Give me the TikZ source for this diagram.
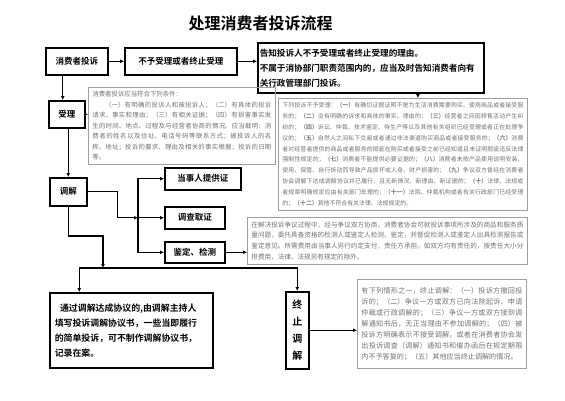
\documentclass[tikz,border=0pt]{standalone}
\usepackage{fontspec}
\setmainfont{Noto Sans CJK SC}[BoldFont={Noto Sans CJK SC Bold}]
\XeTeXlinebreaklocale "zh"
\XeTeXlinebreakskip=0pt plus 1pt
\usetikzlibrary{arrows.meta}
\usetikzlibrary{positioning}
\definecolor{notegray}{gray}{0.45}
\newcommand{\itemno}[1]{{\bfseries （#1）}}

\begin{document}
\begin{tikzpicture}[x=1pt, y=-1pt,
  stepbox/.style={draw, line width=1.5pt, font=\bfseries\fontsize{8.5}{15}\selectfont, inner sep=2pt, anchor=north west},
  notebox/.style={draw=gray!75, line width=0.8pt, text=notegray, align=justify, inner sep=4pt, anchor=north west},
  flow/.style={-{Latex[length=4pt,width=4pt]}, line width=1.2pt}]
  \useasboundingbox [fill=white] (0,0) rectangle (565,400);

  \node [font=\bfseries\fontsize{16}{16}\selectfont] (iTitle) at (260.5,23) {处理消费者投诉流程};

  \node [stepbox, minimum width=62pt, minimum height=27pt] (iComplain) at (45,47) {消费者投诉};
  \node [stepbox, minimum width=112pt, minimum height=27pt] (iReject) at (124,47) {不予受理或者终止受理};
  \node [stepbox, text width=222pt, minimum height=50pt, align=left, font=\bfseries\fontsize{8.6}{15}\selectfont] (iNotice) at (257,42)
    {告知投诉人不予受理或者终止受理的理由。\\不属于消协部门职责范围内的，应当及时告知消费者向有\\关行政管理部门投诉。};
  \node [notebox, text width=241pt, minimum height=112pt, font=\fontsize{5.9}{10.9}\selectfont] (iRejectNote) at (278,98)
    {下列投诉不予受理：\itemno{一}有确切证据证明不是为生活消费需要购买、使用商品或者接受服务的；\itemno{二}没有明确的诉求和具体的事实、理由的；\itemno{三}经营者之间因转售活动产生纠纷的；\itemno{四}诉讼、仲裁、技术鉴定、待生产等以及其他有关组织已经受理或者正在处理争议的；\itemno{五}自然人之间私下交易或者通过非法渠道购买商品或者接受服务的；\itemno{六}消费者对经营者提供的商品或者服务的瑕疵在购买或者接受之前已经知道且未证明瑕疵违反法律强制性规定的；\itemno{七}消费者不能提供必要证据的；\itemno{八}消费者未按产品使用说明安装、使用、保管、自行拆动而导致产品损坏或人身、财产损害的；\itemno{九}争议双方曾经在消费者协会调解下达成调解协议并已履行，且无新情况、新理由、新证据的；\itemno{十}法律、法规或者规章明确规定应由有关部门处理的；\itemno{十一}法院、仲裁机构或者有关行政部门已经受理的；\itemno{十二}其他不符合有关法律、法规规定的。};

  \node [stepbox, minimum width=36pt, minimum height=27pt] (iAccept) at (48,100) {受理};
  \node [notebox, text width=179pt, minimum height=70pt, font=\fontsize{6.4}{10.5}\selectfont] (iAcceptNote) at (88,87)
    {消费者投诉应当符合下列条件：\\\hspace*{2em}（一）有明确的投诉人和被投诉人；（二）有具体的投诉请求、事实和理由；（三）有相关证据；（四）有损害事实发生的时间、地点、过程及与经营者协商的情况。应当载明：消费者的姓名以及住址、电话号码等联系方式；被投诉人的名称、地址；投诉的要求、理由及相关的事实根据；投诉的日期等。};

  \node [stepbox, minimum width=37pt, minimum height=28pt] (iMediate) at (49,177) {调解};
  \node [stepbox, minimum width=76pt, minimum height=22pt] (iEvidence) at (164,167) {当事人提供证};
  \node [stepbox, minimum width=60pt, minimum height=22pt] (iInvestigate) at (164,206) {调查取证};
  \node [stepbox, minimum width=60pt, minimum height=21pt] (iInspect) at (164,241) {鉴定、检测};
  \node [notebox, text width=272pt, minimum height=47pt, font=\fontsize{6.6}{10.8}\selectfont] (iInspectNote) at (247,217)
    {在解决投诉争议过程中，经与争议双方协商，消费者协会可就投诉事项所涉及的商品和服务质量问题，委托具备资格的检测人或鉴定人检测、鉴定，并督促检测人或鉴定人出具检测报告或鉴定意见。所需费用由当事人另行约定支付，责任方承担。如双方均有责任的，按责任大小分担费用，法律、法规另有规定的除外。};

  \node [stepbox, text width=153pt, minimum height=75pt, align=left, inner sep=5pt, font=\bfseries\fontsize{8.9}{15}\selectfont] (iAgree) at (49,292)
    {\hspace*{0.6em}通过调解达成协议的,由调解主持人\\填写投诉调解协议书，一些当即履行\\的简单投诉，可不制作调解协议书，\\记录在案。};
  \node [stepbox, minimum width=23pt, minimum height=77pt, inner sep=1pt, align=center, font=\bfseries\fontsize{10}{17}\selectfont] (iStop) at (285,291)
    {终\\止\\调\\解};
  \node [notebox, text width=161pt, minimum height=89pt, font=\fontsize{7.1}{11}\selectfont] (iStopNote) at (357,279)
    {有下列情形之一，终止调解：（一）投诉方撤回投诉的；（二）争议一方或双方已向法院起诉、申请仲裁或行政调解的；（三）争议一方或双方接到调解通知书后，无正当理由不参加调解的；（四）被投诉方明确表示不接受调解，或者在消费者协会发出投诉调查（调解）通知书和催办函后在规定期限内不予答复的；（五）其他应当终止调解的情况。};

  \coordinate (split) at ([xshift=-26pt]iInvestigate.west);
  \coordinate (join) at (103,268);

  \draw [flow] (iComplain) -- (iReject);
  \draw [flow] (iReject.east) -- (iReject.east -| iNotice.west);
  \draw [flow] ([xshift=15pt]iRejectNote.north |- iNotice.south) -- ([xshift=15pt]iRejectNote.north);
  \draw [flow] ([xshift=-4pt]iAccept.north |- iComplain.south) -- ([xshift=-4pt]iAccept.north);
  \draw [flow] (iAccept.east) -- (iAccept.east -| iAcceptNote.west);
  \draw [flow] (iAccept.south -| iMediate.north) -- (iMediate.north);
  \draw [flow] (iMediate.east) -- ++(30pt,0) |- (split);
  \draw [flow] (split) |- (iEvidence.west);
  \draw [flow] (split) -- (iInvestigate.west);
  \draw [flow] (split) |- (iInspect.west);
  \draw [flow] (iInspect.east) -- (iInspect.east -| iInspectNote.west);
  \draw [flow] (iMediate.south) |- ([yshift=32pt]join) -- (join);
  \draw [flow] (join) -| ([xshift=-52pt]iAgree.north);
  \draw [flow] (join) -| (iStop.north);
  \draw [flow] (iStop.east) -- (iStop.east -| iStopNote.west);
\end{tikzpicture}
\end{document}
